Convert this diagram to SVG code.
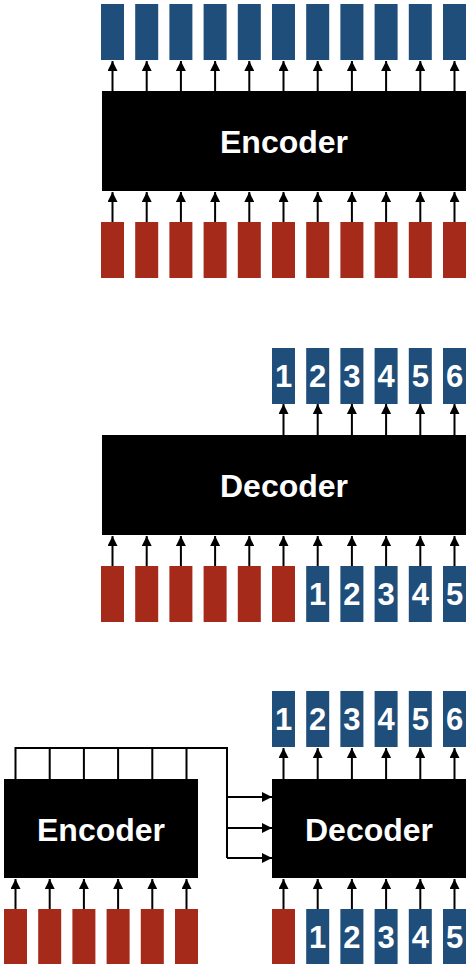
<svg xmlns="http://www.w3.org/2000/svg" width="470" height="968" viewBox="0 0 470 968">
<defs>
<style>
.blk{fill:#000}
.b{fill:#1F4E7B}
.r{fill:#A52A19}
.lbl{font-family:"Liberation Sans",Arial,sans-serif;font-weight:bold;font-size:32px;fill:#fff;text-anchor:middle}
.num{font-family:"Liberation Sans",Arial,sans-serif;font-weight:bold;font-size:31px;fill:#fff;text-anchor:middle}
.ar line{stroke:#000;stroke-width:2;fill:none;marker-end:url(#ah)}
.ln{stroke:#000;stroke-width:2;fill:none}
</style>
<marker id="ah" viewBox="0 0 10 10" refX="10" refY="5" markerWidth="10" markerHeight="10" markerUnits="userSpaceOnUse" orient="auto">
<path d="M0,0 L10,5 L0,10 z" fill="#000"/>
</marker>
</defs>

<g id="enc1"><rect class="blk" x="102" y="91" width="364" height="100"/><text class="lbl" x="284" y="153">Encoder</text></g>
<g id="out1">
<rect class="b" x="101" y="4" width="23" height="56"/>
<rect class="b" x="135.2" y="4" width="23" height="56"/>
<rect class="b" x="169.4" y="4" width="23" height="56"/>
<rect class="b" x="203.6" y="4" width="23" height="56"/>
<rect class="b" x="237.8" y="4" width="23" height="56"/>
<rect class="b" x="272" y="4" width="23" height="56"/>
<rect class="b" x="306.2" y="4" width="23" height="56"/>
<rect class="b" x="340.4" y="4" width="23" height="56"/>
<rect class="b" x="374.6" y="4" width="23" height="56"/>
<rect class="b" x="408.8" y="4" width="23" height="56"/>
<rect class="b" x="443" y="4" width="23" height="56"/>
</g>
<g id="in1">
<rect class="r" x="101" y="222" width="23" height="56"/>
<rect class="r" x="135.2" y="222" width="23" height="56"/>
<rect class="r" x="169.4" y="222" width="23" height="56"/>
<rect class="r" x="203.6" y="222" width="23" height="56"/>
<rect class="r" x="237.8" y="222" width="23" height="56"/>
<rect class="r" x="272" y="222" width="23" height="56"/>
<rect class="r" x="306.2" y="222" width="23" height="56"/>
<rect class="r" x="340.4" y="222" width="23" height="56"/>
<rect class="r" x="374.6" y="222" width="23" height="56"/>
<rect class="r" x="408.8" y="222" width="23" height="56"/>
<rect class="r" x="443" y="222" width="23" height="56"/>
</g>

<g id="dec2"><rect class="blk" x="102" y="435" width="364" height="100"/><text class="lbl" x="284" y="497">Decoder</text></g>
<g id="out2">
<rect class="b" x="272" y="348" width="23" height="56"/><text class="num" x="283.5" y="387">1</text>
<rect class="b" x="306.2" y="348" width="23" height="56"/><text class="num" x="317.7" y="387">2</text>
<rect class="b" x="340.4" y="348" width="23" height="56"/><text class="num" x="351.9" y="387">3</text>
<rect class="b" x="374.6" y="348" width="23" height="56"/><text class="num" x="386.1" y="387">4</text>
<rect class="b" x="408.8" y="348" width="23" height="56"/><text class="num" x="420.3" y="387">5</text>
<rect class="b" x="443" y="348" width="23" height="56"/><text class="num" x="454.5" y="387">6</text>
</g>
<g id="in2">
<rect class="r" x="101" y="566" width="23" height="56"/>
<rect class="r" x="135.2" y="566" width="23" height="56"/>
<rect class="r" x="169.4" y="566" width="23" height="56"/>
<rect class="r" x="203.6" y="566" width="23" height="56"/>
<rect class="r" x="237.8" y="566" width="23" height="56"/>
<rect class="r" x="272" y="566" width="23" height="56"/>
<rect class="b" x="306.2" y="566" width="23" height="56"/><text class="num" x="317.7" y="605">1</text>
<rect class="b" x="340.4" y="566" width="23" height="56"/><text class="num" x="351.9" y="605">2</text>
<rect class="b" x="374.6" y="566" width="23" height="56"/><text class="num" x="386.1" y="605">3</text>
<rect class="b" x="408.8" y="566" width="23" height="56"/><text class="num" x="420.3" y="605">4</text>
<rect class="b" x="443" y="566" width="23" height="56"/><text class="num" x="454.5" y="605">5</text>
</g>

<g id="enc3"><rect class="blk" x="4" y="779" width="194" height="99"/><text class="lbl" x="101" y="841">Encoder</text></g>
<g id="dec3"><rect class="blk" x="272" y="779" width="194" height="99"/><text class="lbl" x="369" y="841">Decoder</text></g>
<g id="out3">
<rect class="b" x="272" y="691" width="23" height="56"/><text class="num" x="283.5" y="730">1</text>
<rect class="b" x="306.2" y="691" width="23" height="56"/><text class="num" x="317.7" y="730">2</text>
<rect class="b" x="340.4" y="691" width="23" height="56"/><text class="num" x="351.9" y="730">3</text>
<rect class="b" x="374.6" y="691" width="23" height="56"/><text class="num" x="386.1" y="730">4</text>
<rect class="b" x="408.8" y="691" width="23" height="56"/><text class="num" x="420.3" y="730">5</text>
<rect class="b" x="443" y="691" width="23" height="56"/><text class="num" x="454.5" y="730">6</text>
</g>
<g id="in3enc">
<rect class="r" x="4" y="909" width="23" height="55"/>
<rect class="r" x="38.2" y="909" width="23" height="55"/>
<rect class="r" x="72.4" y="909" width="23" height="55"/>
<rect class="r" x="106.6" y="909" width="23" height="55"/>
<rect class="r" x="140.8" y="909" width="23" height="55"/>
<rect class="r" x="175" y="909" width="23" height="55"/>
</g>
<g id="in3dec">
<rect class="r" x="272" y="909" width="23" height="55"/>
<rect class="b" x="306.2" y="909" width="23" height="55"/><text class="num" x="317.7" y="948">1</text>
<rect class="b" x="340.4" y="909" width="23" height="55"/><text class="num" x="351.9" y="948">2</text>
<rect class="b" x="374.6" y="909" width="23" height="55"/><text class="num" x="386.1" y="948">3</text>
<rect class="b" x="408.8" y="909" width="23" height="55"/><text class="num" x="420.3" y="948">4</text>
<rect class="b" x="443" y="909" width="23" height="55"/><text class="num" x="454.5" y="948">5</text>
</g>

<g id="connectors">
<g class="ar">
<line x1="112.5" y1="91" x2="112.5" y2="61"/><line x1="146.7" y1="91" x2="146.7" y2="61"/><line x1="180.9" y1="91" x2="180.9" y2="61"/><line x1="215.1" y1="91" x2="215.1" y2="61"/><line x1="249.3" y1="91" x2="249.3" y2="61"/><line x1="283.5" y1="91" x2="283.5" y2="61"/><line x1="317.7" y1="91" x2="317.7" y2="61"/><line x1="351.9" y1="91" x2="351.9" y2="61"/><line x1="386.1" y1="91" x2="386.1" y2="61"/><line x1="420.3" y1="91" x2="420.3" y2="61"/><line x1="454.5" y1="91" x2="454.5" y2="61"/>
<line x1="112.5" y1="222" x2="112.5" y2="192"/><line x1="146.7" y1="222" x2="146.7" y2="192"/><line x1="180.9" y1="222" x2="180.9" y2="192"/><line x1="215.1" y1="222" x2="215.1" y2="192"/><line x1="249.3" y1="222" x2="249.3" y2="192"/><line x1="283.5" y1="222" x2="283.5" y2="192"/><line x1="317.7" y1="222" x2="317.7" y2="192"/><line x1="351.9" y1="222" x2="351.9" y2="192"/><line x1="386.1" y1="222" x2="386.1" y2="192"/><line x1="420.3" y1="222" x2="420.3" y2="192"/><line x1="454.5" y1="222" x2="454.5" y2="192"/>
<line x1="283.5" y1="435" x2="283.5" y2="404"/><line x1="317.7" y1="435" x2="317.7" y2="404"/><line x1="351.9" y1="435" x2="351.9" y2="404"/><line x1="386.1" y1="435" x2="386.1" y2="404"/><line x1="420.3" y1="435" x2="420.3" y2="404"/><line x1="454.5" y1="435" x2="454.5" y2="404"/>
<line x1="112.5" y1="566" x2="112.5" y2="536"/><line x1="146.7" y1="566" x2="146.7" y2="536"/><line x1="180.9" y1="566" x2="180.9" y2="536"/><line x1="215.1" y1="566" x2="215.1" y2="536"/><line x1="249.3" y1="566" x2="249.3" y2="536"/><line x1="283.5" y1="566" x2="283.5" y2="536"/><line x1="317.7" y1="566" x2="317.7" y2="536"/><line x1="351.9" y1="566" x2="351.9" y2="536"/><line x1="386.1" y1="566" x2="386.1" y2="536"/><line x1="420.3" y1="566" x2="420.3" y2="536"/><line x1="454.5" y1="566" x2="454.5" y2="536"/>
<line x1="283.5" y1="779" x2="283.5" y2="748"/><line x1="317.7" y1="779" x2="317.7" y2="748"/><line x1="351.9" y1="779" x2="351.9" y2="748"/><line x1="386.1" y1="779" x2="386.1" y2="748"/><line x1="420.3" y1="779" x2="420.3" y2="748"/><line x1="454.5" y1="779" x2="454.5" y2="748"/>
<line x1="15.5" y1="909" x2="15.5" y2="879"/><line x1="49.7" y1="909" x2="49.7" y2="879"/><line x1="83.9" y1="909" x2="83.9" y2="879"/><line x1="118.1" y1="909" x2="118.1" y2="879"/><line x1="152.3" y1="909" x2="152.3" y2="879"/><line x1="186.5" y1="909" x2="186.5" y2="879"/>
<line x1="283.5" y1="909" x2="283.5" y2="879"/><line x1="317.7" y1="909" x2="317.7" y2="879"/><line x1="351.9" y1="909" x2="351.9" y2="879"/><line x1="386.1" y1="909" x2="386.1" y2="879"/><line x1="420.3" y1="909" x2="420.3" y2="879"/><line x1="454.5" y1="909" x2="454.5" y2="879"/>
<line x1="227" y1="797" x2="272" y2="797"/><line x1="227" y1="828" x2="272" y2="828"/><line x1="227" y1="858" x2="272" y2="858"/>
</g>
<path class="ln" d="M15.5,779V748H227V858M49.7,779V748M83.9,779V748M118.1,779V748M152.3,779V748M186.5,779V748"/>
</g>
</svg>
